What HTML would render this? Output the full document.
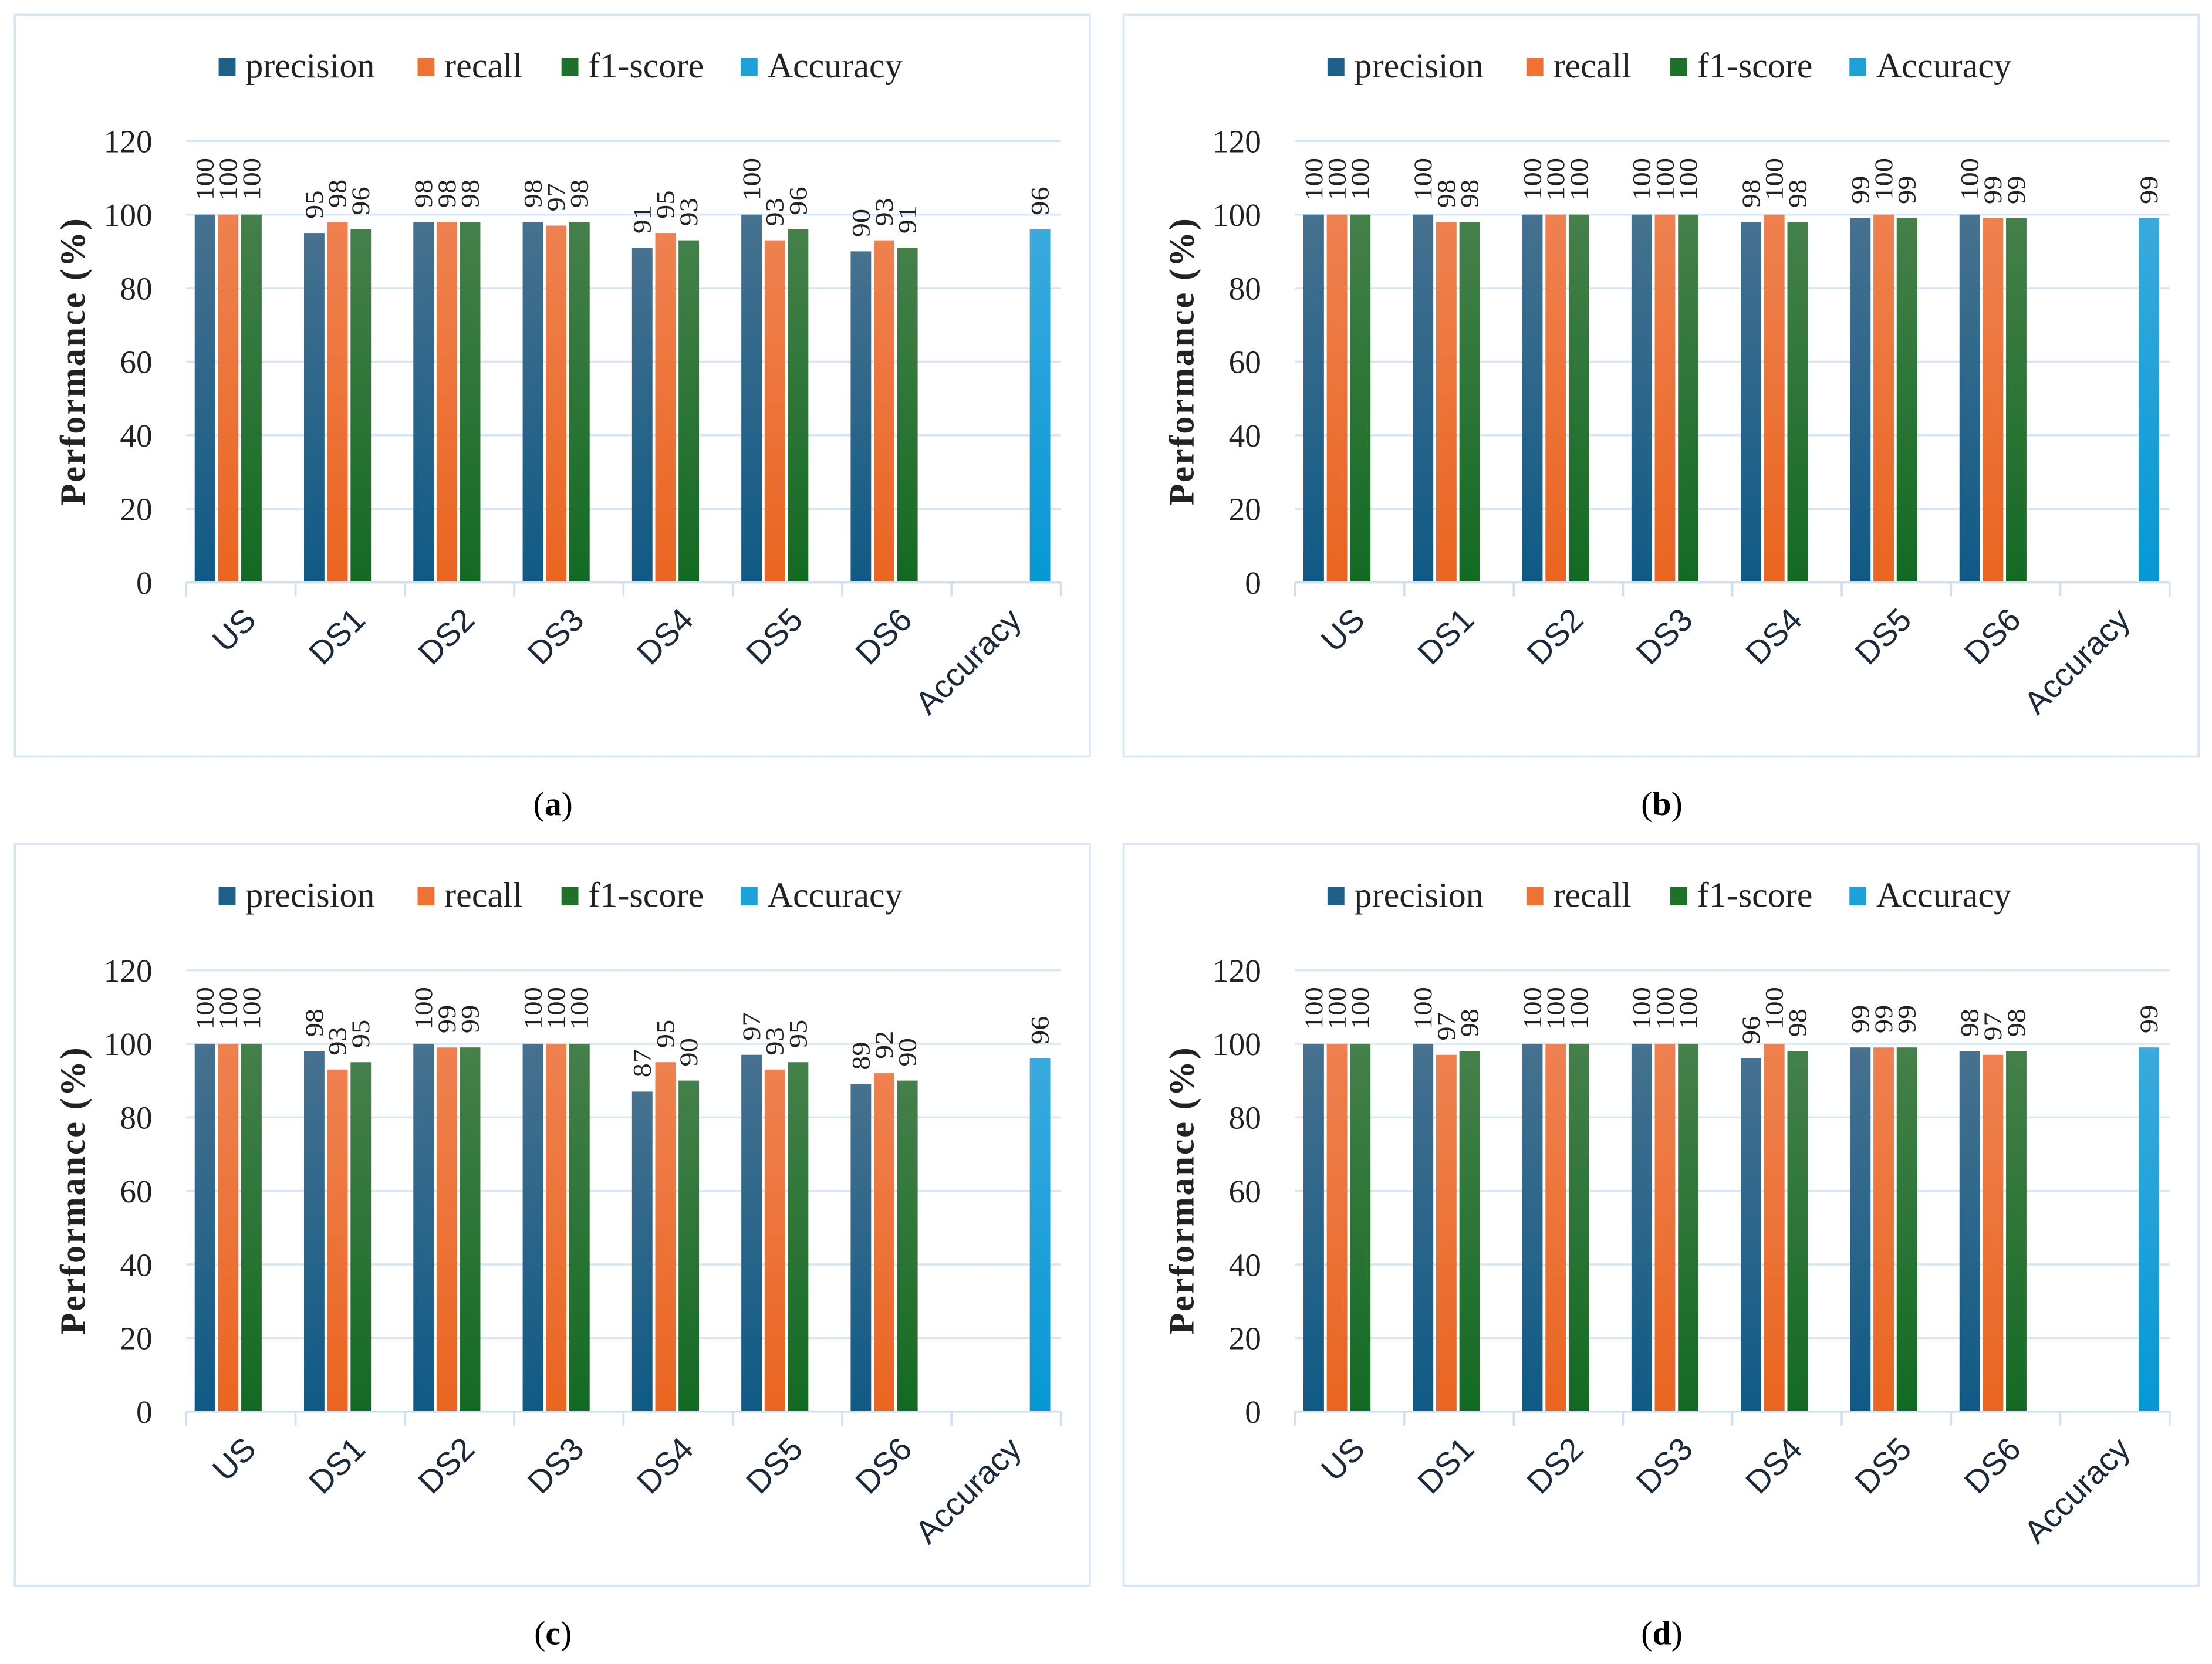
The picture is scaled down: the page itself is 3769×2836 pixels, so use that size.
<!DOCTYPE html>
<html><head><meta charset="utf-8"><style>
html,body{margin:0;padding:0;background:#fff}
svg{display:block}
</style></head><body>
<svg id="fig" width="3769" height="2836" viewBox="0 0 1568 1180" preserveAspectRatio="none" xmlns="http://www.w3.org/2000/svg">
<defs>
<linearGradient id="gP" x1="0" x2="0" y1="0" y2="1"><stop offset="0" stop-color="#46718f"/><stop offset="1" stop-color="#0f5a86"/></linearGradient>
<linearGradient id="gR" x1="0" x2="0" y1="0" y2="1"><stop offset="0" stop-color="#ef8150"/><stop offset="1" stop-color="#ea6520"/></linearGradient>
<linearGradient id="gF" x1="0" x2="0" y1="0" y2="1"><stop offset="0" stop-color="#45804a"/><stop offset="1" stop-color="#136a22"/></linearGradient>
<linearGradient id="gA" x1="0" x2="0" y1="0" y2="1"><stop offset="0" stop-color="#3aaadd"/><stop offset="1" stop-color="#0598d4"/></linearGradient>
</defs>
</svg>
<script>
const categories = ["US","DS1","DS2","DS3","DS4","DS5","DS6","Accuracy"];
const seriesNames = ["precision","recall","f1-score","Accuracy"];
const yTicks = [0,20,40,60,80,100,120];
const panelLabels = ["a","b","c","d"];
const precA = [100,95,98,98,91,100,90];
const recA  = [100,98,98,97,95,93,93];
const f1A   = [100,96,98,98,93,96,91];
const accA  = 96;
const precB = [100,100,100,100,98,99,100];
const recB  = [100,98,100,100,100,100,99];
const f1B   = [100,98,100,100,98,99,99];
const accB  = 99;
const precC = [100,98,100,100,87,97,89];
const recC  = [100,93,99,100,95,93,92];
const f1C   = [100,95,99,100,90,95,90];
const accC  = 96;
const precD = [100,100,100,100,96,99,98];
const recD  = [100,97,100,100,100,99,97];
const f1D   = [100,98,100,100,98,99,98];
const accD  = 99;

const panels = [[precA,recA,f1A,accA],[precB,recB,f1B,accB],[precC,recC,f1C,accC],[precD,recD,f1D,accD]];
const fills = ["url(#gP)","url(#gR)","url(#gF)","url(#gA)"];
const legendFills = ["#1e6088","#ee7233","#1f7028","#1da1d8"];
const NS = "http://www.w3.org/2000/svg";
const svg = document.getElementById("fig");
function mk(tag, attrs, parent, text){
  const e = document.createElementNS(NS, tag);
  for (const k in attrs) e.setAttribute(k, attrs[k]);
  if (text !== undefined) e.textContent = text;
  (parent||svg).appendChild(e);
  return e;
}
const serif = '"Liberation Serif", serif';
const sans = '"Liberation Sans", sans-serif';

panels.forEach((p, pi) => {
  const ox = (pi % 2) * 786, oy = Math.floor(pi / 2) * 588;
  const g = mk("g", {transform:`translate(${ox},${oy})`});
  
  
  const frame = mk("rect", {x:10.5,y:10.5,width:762,height:526,fill:"#fff",stroke:"#d6e6f6","stroke-width":1.5}, g);
  
  
  const x0 = 132, x1 = 752, yBase = 413, yTop = 100;
  const yS = v => yBase - (v / 120) * (yBase - yTop);
  const catW = (x1 - x0) / categories.length;
  yTicks.forEach(t => {
    if (t > 0) {
      const gl = mk("line", {x1:x0,x2:x1,y1:yS(t),y2:yS(t),stroke:"#d9e7f5","stroke-width":1.5}, g);
      
      
    }
    const tl = mk("text", {x:108,y:yS(t)+8,"text-anchor":"end","font-family":serif,"font-size":23,fill:"#222"}, g, String(t));
    
    
  });
  const yt = mk("text", {x:0,y:0,transform:`translate(60,256) rotate(-90)`,"text-anchor":"middle","font-family":serif,"font-size":25,"letter-spacing":1.2,"font-weight":"bold",fill:"#222"}, g, "Performance (%)");
  
  
  const slot = 16.5, bw = 14.5, pad = 6;
  categories.forEach((c, ci) => {
    const cx0 = x0 + ci * catW;
    for (let s = 0; s < 4; s++) {
      let v;
      if (ci < 7 && s < 3) v = p[s][ci];
      else if (ci === 7 && s === 3) v = p[3];
      else continue;
      const bx = cx0 + pad + s * slot;
      const r = mk("rect", {x:bx,y:yS(v),width:bw,height:yBase-yS(v),fill:fills[s]}, g);
      
      
      const lx = bx + bw/2 + 6, ly = yS(v) - 10;
      const lb = mk("text", {x:0,y:0,transform:`translate(${lx},${ly}) rotate(-90) scale(1.12,1)`,"font-family":serif,"font-size":18,fill:"#222"}, g, String(v));
      
      
    }
    const tx = cx0 + catW/2 + 12, ty = 441;
    const cl = mk("text", {x:0,y:0,transform:`translate(${tx},${ty}) rotate(-45)`,"text-anchor":"end","font-family":sans,"font-size":23,fill:"#1a2a3a"}, g, c);
    
    
  });
  const ax = mk("line", {x1:x0,x2:x1,y1:yBase,y2:yBase,stroke:"#cfe0f2","stroke-width":1.5}, g);
  
  
  for (let i = 0; i <= categories.length; i++) {
    const tk = mk("line", {x1:x0+i*catW,x2:x0+i*catW,y1:yBase,y2:yBase+10,stroke:"#cfe0f2","stroke-width":1.5}, g);
    
    
  }
  const lxs = [155, 296, 398, 525];
  seriesNames.forEach((n, i) => {
    const sq = mk("rect", {x:lxs[i],y:41,width:12,height:13,fill:legendFills[i]}, g);
    
    
    const lt = mk("text", {x:lxs[i]+19,y:55,"font-family":serif,"font-size":25,fill:"#222"}, g, n);
    
    
  });
  const cap = mk("text", {x:392,y:578,"text-anchor":"middle","font-family":serif,"font-size":24,fill:"#000"}, g);
  
  
  mk("tspan", {}, cap, "(");
  mk("tspan", {"font-weight":"bold"}, cap, panelLabels[pi]);
  mk("tspan", {}, cap, ")");
});
</script>
</body></html>
